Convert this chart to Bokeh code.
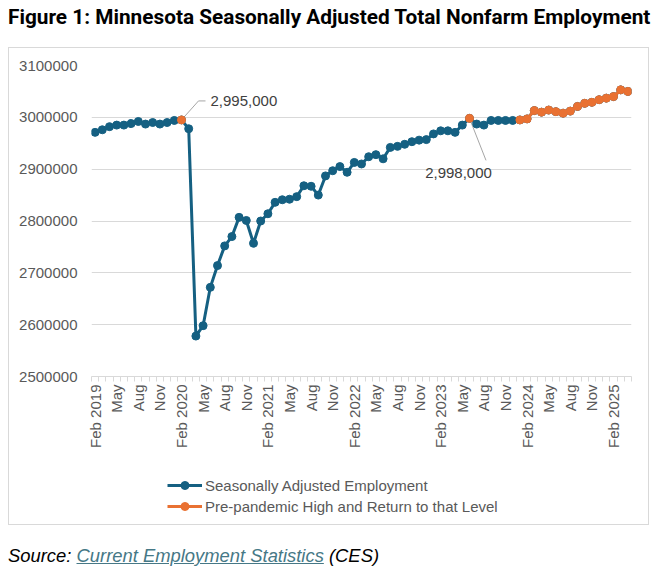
import math
import pandas as pd
from bokeh.plotting import figure
from bokeh.models import (Range1d, FixedTicker, NumeralTickFormatter, Legend, LegendItem,
                          Label, Div)
from bokeh.layouts import column
from bokeh.embed import file_html
from bokeh.resources import INLINE

# ---------------- data ----------------
months = [d.strftime("%b %Y") for d in pd.date_range("2019-02-01", periods=75, freq="MS")]

employment = [
    2971000, 2976000, 2982000, 2985000, 2985000, 2988000, 2992000, 2987000, 2990000, 2987000,
    2990000, 2994000, 2995000, 2978000, 2578000, 2598000, 2672000, 2714000, 2752000, 2770000,
    2807000, 2801000, 2757000, 2800000, 2814000, 2836000, 2841000, 2842000, 2847000, 2868000,
    2867000, 2850000, 2887000, 2897000, 2905000, 2894000, 2913000, 2910000, 2924000, 2928000,
    2920000, 2942000, 2944000, 2948000, 2953000, 2956000, 2957000, 2968000, 2974000, 2974000,
    2971000, 2985000, 2998000, 2987000, 2985000, 2994000, 2994000, 2994000, 2994000, 2995000,
    2997000, 3013000, 3010000, 3014000, 3011000, 3008000, 3012000, 3021000, 3027000, 3029000,
    3034000, 3037000, 3040000, 3053000, 3050000,
]

highlight_months = ["Feb 2020", "Jun 2023"] + months[months.index("Jan 2024"):]
highlight = [v if m in highlight_months else float("nan") for m, v in zip(months, employment)]

tick_labels = ["Feb 2019", "May", "Aug", "Nov", "Feb 2020", "May", "Aug", "Nov",
               "Feb 2021", "May", "Aug", "Nov", "Feb 2022", "May", "Aug", "Nov",
               "Feb 2023", "May", "Aug", "Nov", "Feb 2024", "May", "Aug", "Nov", "Feb 2025"]

y_ticks = [2500000, 2600000, 2700000, 2800000, 2900000, 3000000, 3100000]

peak_label = "2,995,000"
return_label = "2,998,000"
series_names = ["Seasonally Adjusted Employment", "Pre-pandemic High and Return to that Level"]

# ---------------- style ----------------
BLUE = "#156082"
ORANGE = "#E97132"
GRID = "#d9d9d9"
BORDER = "1px solid #d9d9d9"
TXT = "#595959"
FONT = "Liberation Sans"
MSIZE = 8

W, H = 641, 417
ML, MR, MT, MB = 82, 19, 17, 89
FW, FH = W - ML - MR, H - MT - MB

n = len(months)
xs = list(range(n))

p = figure(width=W, height=H, x_range=Range1d(-0.5, n - 0.5),
           y_range=Range1d(y_ticks[0], y_ticks[-1]),
           output_backend="svg", toolbar_location=None,
           min_border_left=ML, min_border_right=MR, min_border_top=MT, min_border_bottom=MB)
p.styles = {"border-top": BORDER, "border-left": BORDER, "border-right": BORDER}
p.outline_line_color = None
p.background_fill_color = "white"
p.border_fill_color = "white"

# y axis
p.yaxis.ticker = FixedTicker(ticks=y_ticks)
p.yaxis.formatter = NumeralTickFormatter(format="0")
p.yaxis.axis_line_color = None
p.yaxis.major_tick_line_color = None
p.yaxis.minor_tick_line_color = None
p.yaxis.major_label_standoff = 8
p.yaxis.major_label_text_font = FONT
p.yaxis.major_label_text_font_size = "15px"
p.yaxis.major_label_text_color = TXT

# x axis
tick_pos = list(range(0, n, 3))[:len(tick_labels)]
p.xaxis.ticker = FixedTicker(ticks=tick_pos, minor_ticks=[i - 0.5 for i in range(n + 1)])
p.xaxis.major_label_overrides = {t: lab for t, lab in zip(tick_pos, tick_labels)}
p.xaxis.major_label_orientation = math.pi / 2
p.xaxis.axis_line_color = GRID
p.xaxis.major_tick_out = 0
p.xaxis.major_tick_in = 0
p.xaxis.minor_tick_out = 5
p.xaxis.minor_tick_in = 0
p.xaxis.minor_tick_line_color = GRID
p.xaxis.major_label_standoff = 3
p.xaxis.major_label_text_font = FONT
p.xaxis.major_label_text_font_size = "15px"
p.xaxis.major_label_text_color = TXT

p.xgrid.grid_line_color = None
p.ygrid.grid_line_color = GRID
p.ygrid.grid_line_width = 1

# leader lines (pixel offsets converted through the frame scale)
ux = n / FW
uy = (y_ticks[-1] - y_ticks[0]) / FH
i1 = months.index("Feb 2020")
i2 = months.index("Jun 2023")
p.line([i1, i1 + 17 * ux, i1 + 24 * ux],
       [employment[i1], employment[i1] + 19 * uy, employment[i1] + 19 * uy],
       line_color="#a6a6a6", line_width=1)
p.line([i2, i2 + 16.5 * ux], [employment[i2], employment[i2] - 42 * uy],
       line_color="#a6a6a6", line_width=1)

p.line(xs, employment, line_color=BLUE, line_width=3)
p.scatter(xs, employment, size=MSIZE, fill_color=BLUE, line_color=BLUE)
p.line(xs, highlight, line_color=ORANGE, line_width=3)
p.scatter(xs, highlight, size=MSIZE, fill_color=ORANGE, line_color=ORANGE)

p.add_layout(Label(x=i1, y=employment[i1], text=peak_label, x_offset=29, y_offset=19,
                   text_align="left", text_baseline="middle", text_font=FONT,
                   text_font_size="15px", text_color="#404040"))
p.add_layout(Label(x=i2, y=employment[i2], text=return_label, x_offset=-11, y_offset=-55,
                   text_align="center", text_baseline="middle", text_font=FONT,
                   text_font_size="15px", text_color="#404040"))

# ---------------- legend strip (same chart box) ----------------
p2 = figure(width=W, height=61, x_range=Range1d(0, 1), y_range=Range1d(0, 1),
            output_backend="svg", toolbar_location=None,
            x_axis_location=None, y_axis_location=None,
            min_border_left=0, min_border_right=0, min_border_top=0, min_border_bottom=0)
p2.styles = {"border-bottom": BORDER, "border-left": BORDER, "border-right": BORDER}
p2.outline_line_color = None
p2.xgrid.grid_line_color = None
p2.ygrid.grid_line_color = None
# legend-only renderers, kept outside the visible range of this strip
lb = p2.line([5, 6], [5, 5], line_color=BLUE, line_width=3)
sb = p2.scatter([5], [5], size=MSIZE, fill_color=BLUE, line_color=BLUE)
lo = p2.line([5, 6], [5, 5], line_color=ORANGE, line_width=3)
so = p2.scatter([5], [5], size=MSIZE, fill_color=ORANGE, line_color=ORANGE)

legend = Legend(items=[LegendItem(label=series_names[0], renderers=[lb, sb]),
                       LegendItem(label=series_names[1], renderers=[lo, so])],
                location=(76, 9), orientation="vertical",
                border_line_color=None, background_fill_alpha=0,
                padding=0, margin=0, spacing=1, glyph_width=35, glyph_height=20,
                label_height=20, label_standoff=3, label_text_font=FONT,
                label_text_font_size="15px", label_text_color=TXT)
p2.add_layout(legend, "center")

title = Div(text="Figure 1: Minnesota Seasonally Adjusted Total Nonfarm Employment",
            width=644, height=39, margin=0,
            styles={"font-family": "Roboto", "font-weight": "bold", "font-size": "20.8px",
                    "color": "#000000", "line-height": "19px", "white-space": "nowrap"})
source = Div(text='<i>Source: <a style="color:#467886;text-decoration:underline">'
                  'Current Employment Statistics</a> (CES)</i>',
             width=644, height=40, margin=0,
             styles={"font-family": FONT, "font-size": "18.4px", "color": "#000000",
                     "padding-top": "22px", "line-height": "18px", "white-space": "nowrap"})

layout = column(title, p, p2, source, spacing=0, margin=(8, 8, 0, 8))
open("out.html", "w").write(file_html(layout, INLINE))
